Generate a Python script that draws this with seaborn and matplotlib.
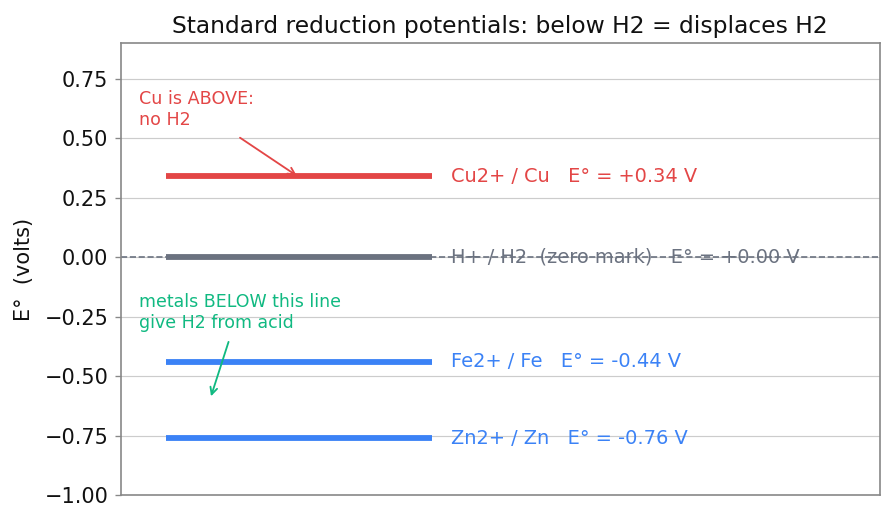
import matplotlib
matplotlib.use("Agg")
import matplotlib.pyplot as plt
import seaborn as sns
import pandas as pd

# couples and their standard potentials (V)
couples = ["Cu2+ / Cu", "H+ / H2  (zero mark)", "Fe2+ / Fe", "Zn2+ / Zn"]
potentials = [0.34, 0.00, -0.44, -0.76]
colors = ["#e34646", "#6b7280", "#3b82f6", "#3b82f6"]

x_start, x_end = 0.06, 0.41

sns.set_style("whitegrid")
plt.rcParams['font.family'] = ['DejaVu Sans']
plt.rcParams['text.color'] = "#111111"
plt.rcParams['axes.labelcolor'] = "#111111"
plt.rcParams['ytick.color'] = "#111111"

fig, ax = plt.subplots(figsize=(7.45, 4.35), dpi=120)

rows = []
for name, e in zip(couples, potentials):
    rows.append({"couple": name, "x": x_start, "E": e})
    rows.append({"couple": name, "x": x_end, "E": e})
df = pd.DataFrame(rows)

ax.axhline(0, color="#6b7280", lw=1.0, ls="--", zorder=1)
sns.lineplot(data=df, x="x", y="E", hue="couple", palette=dict(zip(couples, colors)),
             linewidth=3.5, legend=False, ax=ax, zorder=3, solid_capstyle="butt")

for name, e, c in zip(couples, potentials, colors):
    sign = "+" if e >= 0 else ""
    ax.text(0.435, e, f"{name}   E\u00b0 = {sign}{e:.2f} V",
            color=c, fontsize=11.6, va="center", ha="left", zorder=1)

ax.annotate("Cu is ABOVE:\nno H2", xy=(0.232, 0.342), xytext=(0.024, 0.70),
            color="#e34646", fontsize=10.5, ha="left", va="top",
            arrowprops=dict(arrowstyle="->", color="#e34646", lw=1.1,
                            shrinkA=5, shrinkB=0, relpos=(0.77, 0.0)))
ax.annotate("metals BELOW this line\ngive H2 from acid", xy=(0.119, -0.584),
            xytext=(0.024, -0.15), color="#10b981", fontsize=10.4, ha="left", va="top",
            arrowprops=dict(arrowstyle="->", color="#10b981", lw=1.1,
                            shrinkA=4, shrinkB=0, relpos=(0.46, 0.0)))

ax.set_xlim(0, 1)
ax.set_ylim(-1.0, 0.9)
ax.set_xticks([])
ax.set_xlabel("")
ax.set_ylabel("E\u00b0  (volts)", fontsize=12.5, labelpad=6)
ax.set_title("Standard reduction potentials: below H2 = displaces H2", fontsize=14)
ax.tick_params(axis="y", labelsize=12.5, left=True, length=3.5, pad=4, color="#888888")
ax.grid(axis="x", visible=False)
ax.grid(axis="y", color="#cccccc", lw=0.7)
for s in ax.spines.values():
    s.set_color("#888888")
    s.set_linewidth(1.0)

fig.subplots_adjust(left=0.135, right=0.984, top=0.918, bottom=0.051)
fig.savefig("out.png", dpi=120)
